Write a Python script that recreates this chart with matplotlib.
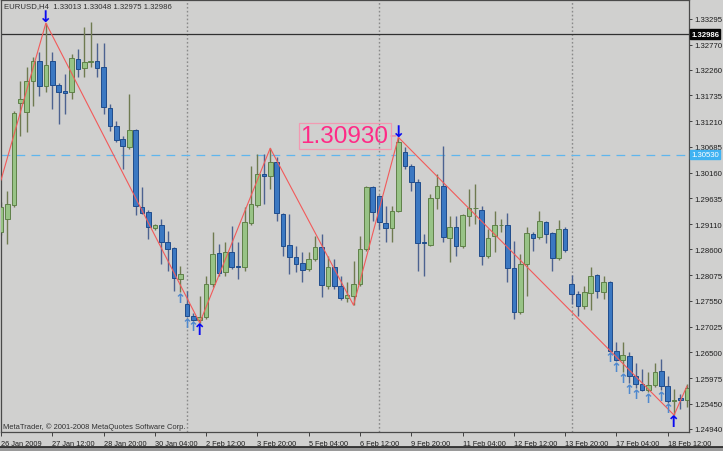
import matplotlib
matplotlib.use("Agg")
import matplotlib.pyplot as plt
from matplotlib.transforms import blended_transform_factory
from matplotlib.lines import Line2D

plt.rcParams['font.family'] = ['Liberation Sans', 'DejaVu Sans']

# ---------------- data (EURUSD H4) ----------------
opens = [1.2895, 1.2922, 1.2950, 1.3158, 1.3140, 1.3203, 1.3244, 1.3193, 1.3244, 1.3195,
         1.3183, 1.3180, 1.3248, 1.3229, 1.3241, 1.3243, 1.3231, 1.3148, 1.3111, 1.3085,
         1.3068, 1.3103, 1.2946, 1.2936, 1.2903, 1.2909, 1.2875, 1.2863, 1.2799, 1.2748,
         1.2724, 1.2716, 1.2722, 1.2789, 1.2852, 1.2814, 1.2854, 1.2825, 1.2824, 1.2913,
         1.2950, 1.3013, 1.3009, 1.3038, 1.2932, 1.2869, 1.2844, 1.2832, 1.2820, 1.2840,
         1.2865, 1.2785, 1.2824, 1.2785, 1.2761, 1.2765, 1.2789, 1.2861, 1.2987, 1.2969,
         1.2913, 1.2903, 1.2938, 1.3058, 1.3030, 1.2997, 1.2874, 1.2869, 1.2964, 1.2989,
         1.2883, 1.2905, 1.2867, 1.2928, 1.2944, 1.2940, 1.2846, 1.2887, 1.2909, 1.2909,
         1.2822, 1.2732, 1.2830, 1.2891, 1.2885, 1.2916, 1.2893, 1.2842, 1.2901, 1.2789,
         1.2769, 1.2744, 1.2771, 1.2807, 1.2773, 1.2793, 1.2653, 1.2634, 1.2642, 1.2602,
         1.2585, 1.2573, 1.2583, 1.2612, 1.2581, 1.2551, 1.2557, 1.2553]
highs = [1.2956, 1.2979, 1.3142, 1.3203, 1.3231, 1.3252, 1.3262, 1.3321, 1.3262, 1.3199,
         1.3217, 1.3258, 1.3268, 1.3313, 1.3323, 1.3280, 1.3280, 1.3156, 1.3121, 1.3091,
         1.3176, 1.3105, 1.2987, 1.2940, 1.2911, 1.2922, 1.2897, 1.2865, 1.2826, 1.2775,
         1.2730, 1.2765, 1.2805, 1.2895, 1.2871, 1.2875, 1.2907, 1.2875, 1.2946, 1.3030,
         1.3054, 1.3054, 1.3066, 1.3048, 1.2934, 1.2932, 1.2867, 1.2854, 1.2854, 1.2887,
         1.2891, 1.2846, 1.2840, 1.2805, 1.2793, 1.2836, 1.2887, 1.2989, 1.2989, 1.2971,
         1.2948, 1.2948, 1.3088, 1.3068, 1.3034, 1.3003, 1.2891, 1.2973, 1.3013, 1.3070,
         1.2928, 1.2928, 1.2932, 1.2983, 1.2993, 1.2948, 1.2901, 1.2938, 1.2922, 1.2934,
         1.2877, 1.2850, 1.2905, 1.2895, 1.2938, 1.2918, 1.2895, 1.2920, 1.2905, 1.2807,
         1.2775, 1.2785, 1.2824, 1.2810, 1.2805, 1.2795, 1.2671, 1.2671, 1.2651, 1.2628,
         1.2616, 1.2610, 1.2628, 1.2636, 1.2602, 1.2575, 1.2565, 1.2585]
lows = [1.2889, 1.2871, 1.2946, 1.3091, 1.3099, 1.3152, 1.3172, 1.3180, 1.3146, 1.3115,
        1.3136, 1.3166, 1.3211, 1.3211, 1.3231, 1.3211, 1.3136, 1.3101, 1.3079, 1.3024,
        1.3064, 1.2930, 1.2932, 1.2881, 1.2899, 1.2830, 1.2816, 1.2775, 1.2773, 1.2722,
        1.2714, 1.2710, 1.2718, 1.2783, 1.2805, 1.2805, 1.2820, 1.2799, 1.2816, 1.2909,
        1.2946, 1.2952, 1.2983, 1.2918, 1.2846, 1.2810, 1.2814, 1.2793, 1.2816, 1.2836,
        1.2763, 1.2779, 1.2779, 1.2757, 1.2752, 1.2746, 1.2785, 1.2856, 1.2918, 1.2901,
        1.2875, 1.2875, 1.2936, 1.3024, 1.2979, 1.2816, 1.2805, 1.2867, 1.2942, 1.2875,
        1.2834, 1.2846, 1.2863, 1.2907, 1.2911, 1.2828, 1.2842, 1.2854, 1.2895, 1.2793,
        1.2718, 1.2728, 1.2765, 1.2856, 1.2881, 1.2873, 1.2816, 1.2838, 1.2854, 1.2748,
        1.2724, 1.2738, 1.2736, 1.2761, 1.2759, 1.2651, 1.2632, 1.2610, 1.2587, 1.2577,
        1.2571, 1.2569, 1.2579, 1.2573, 1.2547, 1.2522, 1.2534, 1.2539]
closes = [1.2946, 1.2952, 1.3138, 1.3166, 1.3203, 1.3244, 1.3193, 1.3235, 1.3195, 1.3180,
          1.3179, 1.3250, 1.3227, 1.3242, 1.3243, 1.3230, 1.3150, 1.3111, 1.3083, 1.3070,
          1.3103, 1.2948, 1.2934, 1.2905, 1.2909, 1.2875, 1.2861, 1.2801, 1.2810, 1.2724,
          1.2716, 1.2722, 1.2789, 1.2850, 1.2812, 1.2854, 1.2824, 1.2823, 1.2916, 1.2952,
          1.3013, 1.3009, 1.3038, 1.2934, 1.2867, 1.2844, 1.2830, 1.2818, 1.2840, 1.2865,
          1.2787, 1.2824, 1.2785, 1.2761, 1.2767, 1.2789, 1.2861, 1.2987, 1.2936, 1.2916,
          1.2903, 1.2938, 1.3079, 1.3030, 1.2997, 1.2873, 1.2872, 1.2964, 1.2989, 1.2885,
          1.2905, 1.2867, 1.2930, 1.2944, 1.2944, 1.2846, 1.2883, 1.2909, 1.2909, 1.2822,
          1.2732, 1.2830, 1.2893, 1.2883, 1.2918, 1.2891, 1.2842, 1.2901, 1.2858, 1.2769,
          1.2744, 1.2773, 1.2805, 1.2775, 1.2793, 1.2653, 1.2634, 1.2644, 1.2602, 1.2585,
          1.2573, 1.2583, 1.2610, 1.2581, 1.2551, 1.2552, 1.2553, 1.2577]

zigzag_bars = [0, 7, 31, 42, 55, 62, 105, 107]
zigzag_prices = [1.3001, 1.3321, 1.2710, 1.3066, 1.2746, 1.3088, 1.2522, 1.2581]

big_down_bars = [7, 62]
big_up_bars = [31, 105]
small_up_bars = [28, 29, 30, 95, 96, 97, 98, 99, 101, 103, 104]

separator_bars = [29, 59, 89]

time_tick_bars = [0, 8, 16, 24, 32, 40, 48, 56, 64, 72, 80, 88, 96, 104]
time_tick_labels = ["26 Jan 2009", "27 Jan 12:00", "28 Jan 20:00", "30 Jan 04:00",
                    "2 Feb 12:00", "3 Feb 20:00", "5 Feb 04:00", "6 Feb 12:00",
                    "9 Feb 20:00", "11 Feb 04:00", "12 Feb 12:00", "13 Feb 20:00",
                    "17 Feb 04:00", "18 Feb 12:00"]
price_ticks = [1.33295, 1.32770, 1.32260, 1.31735, 1.31210, 1.30685, 1.30160, 1.29635,
               1.29110, 1.28600, 1.28075, 1.27550, 1.27025, 1.26500, 1.25975, 1.25450,
               1.24940]

bid_price = 1.32986
level_price = 1.30530
peak_label = "1.30930"
header = "EURUSD,H4  1.33013 1.33048 1.32975 1.32986"
copyright_text = "MetaTrader, \u00a9 2001-2008 MetaQuotes Software Corp."

# ---------------- styling ----------------
bg = '#D0D0CF'
bull_body, bull_edge, bull_wick = '#98C386', '#5F8048', '#6F7A50'
bear_body, bear_edge, bear_wick = '#3B78C2', '#1F4C8C', '#4C6290'
txt = '#1E1E1E'

W, H = 723, 452
fig = plt.figure(figsize=(W / 100, H / 100), dpi=100, facecolor=bg)
ax = fig.add_axes([1 / W, 19 / H, 688 / W, 432 / H])
ax.set_facecolor(bg)

n = len(opens)
xs = list(range(n))
up = [c >= o for o, c in zip(opens, closes)]

ax.vlines(xs, lows, highs, colors=[bull_wick if u else bear_wick for u in up],
          linewidth=1.0, zorder=2)
ax.bar(xs, [abs(c - o) for o, c in zip(opens, closes)],
       bottom=[min(o, c) for o, c in zip(opens, closes)], width=0.72,
       color=[bull_body if u else bear_body for u in up],
       edgecolor=[bull_edge if u else bear_edge for u in up], linewidth=0.7, zorder=3)

# separators
for b in separator_bars:
    ax.axvline(b, color='#8A8A8A', linestyle=(0, (1.2, 1.6)), linewidth=1.0, zorder=1)

# bid line & level line
ax.axhline(bid_price, color='#303030', linewidth=0.9, zorder=1)
ax.axhline(level_price, color='#5FB6EE', linewidth=0.9, linestyle=(0, (7, 5)), zorder=1)

# zigzag
ax.plot(zigzag_bars, zigzag_prices, color='#F25A5A', linewidth=0.8, zorder=4)

# arrows
for b in big_down_bars:
    ax.annotate('\u2193', xy=(b, highs[b]), xytext=(0, -1), textcoords='offset points',
                ha='center', va='bottom', color='#0A0AF0', fontsize=11.5, fontweight='bold',
                family=['DejaVu Sans'], zorder=6)
for b in big_up_bars:
    ax.annotate('\u2191', xy=(b, lows[b]), xytext=(0, 0.5), textcoords='offset points',
                ha='center', va='top', color='#0A0AF0', fontsize=11.5, fontweight='bold',
                family=['DejaVu Sans'], zorder=6)
for b in small_up_bars:
    ax.annotate('\u2191', xy=(b, lows[b]), xytext=(0, 0.3), textcoords='offset points',
                ha='center', va='top', color='#5089CE', fontsize=9.5, fontweight='bold',
                family=['DejaVu Sans'], zorder=6)

# peak label
pk = zigzag_bars[5]
ax.annotate(peak_label, xy=(pk - 0.4, highs[pk] + 0.0003), xytext=(53.6, 1.3090),
            textcoords='data', ha='center', va='center', color='#FF2A86', fontsize=17.5,
            family=['Liberation Sans'],
            bbox=dict(boxstyle='square,pad=0.08', facecolor='none', edgecolor='#F29AB2', linewidth=0.9),
            arrowprops=dict(arrowstyle='-', color='#F07090', linewidth=0.8, shrinkA=0, shrinkB=0),
            zorder=7)

# axes limits
ax.set_xlim(0, 107.33)
ax.set_ylim(1.24876, 1.33680)

# ticks
ax.set_xticks(time_tick_bars)
ax.set_xticklabels(time_tick_labels, fontsize=5.3, color=txt)
for lab in ax.get_xticklabels():
    lab.set_horizontalalignment('left')
ax.tick_params(axis='x', direction='out', length=3, width=0.7, color='#404040', pad=2.5)

ax.yaxis.tick_right()
ax.set_yticks(price_ticks)
ax.set_yticklabels(['%.5f' % p for p in price_ticks], fontsize=5.6, color=txt)
ax.tick_params(axis='y', direction='out', length=2.5, width=0.7, color='#404040', pad=1.5)

for s in ax.spines.values():
    s.set_color('#4A4A4A')
    s.set_linewidth(0.9)

# price boxes on the axis
tr = blended_transform_factory(ax.transAxes, ax.transData)
ax.text(1.003, bid_price, '%.5f' % bid_price, transform=tr, ha='left', va='center',
        fontsize=5.6, color='white', fontweight='bold',
        bbox=dict(boxstyle='square,pad=0.15', facecolor='#050505', edgecolor='#050505'),
        clip_on=False, zorder=8)
ax.text(1.003, level_price, '%.5f' % level_price, transform=tr, ha='left', va='center',
        fontsize=5.6, color='white',
        bbox=dict(boxstyle='square,pad=0.15', facecolor='#3FB2F2', edgecolor='#3FB2F2'),
        clip_on=False, zorder=8)

# texts
fig.text(4 / W, 1 - 7 / H, header, fontsize=5.6, color='#303030', va='center', ha='left')
fig.text(3 / W, 1 - 427 / H, copyright_text, fontsize=5.4, color='#303030', va='center', ha='left')

# bottom frame band
fig.add_artist(Line2D([0, 1], [1 - 447.5 / H] * 2, transform=fig.transFigure,
                      color='#202020', linewidth=1.2))
fig.add_artist(plt.Rectangle((0, 0), 1, 4 / H, transform=fig.transFigure,
                             facecolor='#9A9A9A', edgecolor='none'))

fig.savefig('out.png', dpi=100, facecolor=bg)
